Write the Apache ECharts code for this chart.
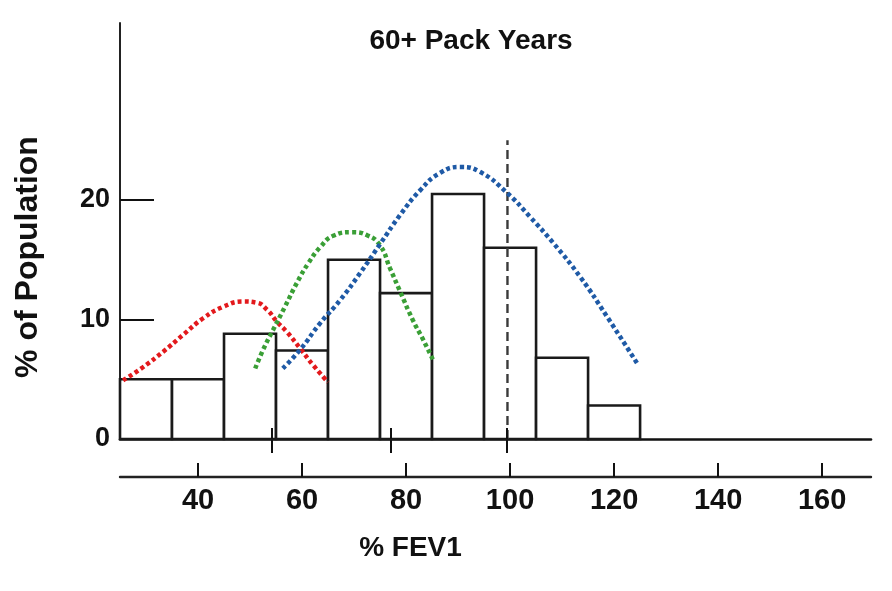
<!DOCTYPE html>
<html>
<head>
<meta charset="utf-8">
<script src="https://cdn.jsdelivr.net/npm/echarts@6/dist/echarts.min.js"></script>
<style>
    html,body{margin:0;padding:0;background:#fff;}
    #chart{width:892px;height:591px;}
</style>
</head>
<body>
<div id="chart"></div>
<script>
    // histogram bins (% FEV1) and heights (% of population)
    var binStart = [25, 35, 45, 55, 65, 75, 85, 95, 105, 115];
    var binEnd   = [35, 45, 55, 65, 75, 85, 95, 105, 115, 125];
    var pctPopulation = [5, 5, 8.8, 7.4, 15, 12.2, 20.5, 16, 6.8, 2.8];

    // dotted curves
    var redX = [25.6, 29.4, 33.3, 37.1, 41.0, 44.8, 48.7, 51.3, 53.3, 55.2, 57.1, 59.6, 62.1, 65.0];
    var redY = [4.9, 6.0, 7.3, 8.7, 10.1, 11.05, 11.5, 11.4, 10.8, 9.8, 8.95, 7.6, 6.2, 4.75];
    var greenX = [51.0, 52.5, 54.4, 56.7, 59.0, 61.2, 63.5, 66.0, 69.6, 72.5, 75.0, 76.9, 78.8, 81.3, 83.3, 85.2];
    var greenY = [5.9, 7.45, 9.1, 11.05, 13.05, 14.7, 16.05, 17.0, 17.3, 17.05, 16.2, 14.3, 12.4, 9.95, 8.3, 6.6];
    var blueX = [56.3, 59.6, 63.5, 67.3, 71.2, 75.0, 78.8, 82.7, 86.5, 90.4, 94.2, 99.4, 103.8, 108.3, 113.5, 118.7, 124.4];
    var blueY = [5.9, 7.45, 9.7, 11.6, 13.9, 16.3, 18.7, 20.8, 22.25, 22.75, 22.35, 20.6, 18.6, 16.4, 13.55, 10.2, 6.35];

    // reference line at 100 % FEV1
    var refX = 99.5;
    var refTop = 25;

    var xTickValues = [40, 60, 80, 100, 120, 140, 160];
    var yLabelValues = [0, 10, 20];
    var yTickValues = [10, 20];
    var baselineMarks = [54.2, 77.1, 99.4];

    function pairs(xs, ys){
        return xs.map(function(x, i){ return [x, ys[i]]; });
    }

    var font = '"Liberation Sans", Arial, sans-serif';
    var xMin = 25, xMax = 169.4;

    var myChart = echarts.init(document.getElementById('chart'));

    var dotted = function(color){
        return {color: color, width: 4.5, type: [4, 3], cap: 'butt'};
    };

    var option = {
        animation: false,
        title: {
            text: '60+ Pack Years',
            left: 466,
            top: 22,
            textAlign: 'center',
            textStyle: {fontFamily: font, fontSize: 28, fontWeight: 'bold', color: '#111'}
        },
        grid: {left: 120, right: 21, top: 23, bottom: 152},
        xAxis: [
            {   // histogram baseline, marks pointing down
                type: 'value', min: xMin, max: xMax, position: 'bottom',
                axisLine: {show: true, lineStyle: {color: '#111', width: 2.6}},
                axisTick: {show: true, customValues: baselineMarks, length: 14, lineStyle: {color: '#111', width: 2}},
                axisLabel: {show: false},
                splitLine: {show: false}
            },
            {   // same baseline, marks pointing up through the bars
                type: 'value', min: xMin, max: xMax, position: 'bottom', z: 5,
                axisLine: {show: false},
                axisTick: {show: true, inside: true, customValues: baselineMarks, length: 11, lineStyle: {color: '#111', width: 2}},
                axisLabel: {show: false},
                splitLine: {show: false}
            },
            {   // labelled scale underneath
                type: 'value', min: xMin, max: xMax, position: 'bottom', offset: 38,
                name: '% FEV1',
                nameLocation: 'middle',
                nameGap: 57,
                nameTextStyle: {fontFamily: font, fontSize: 28, fontWeight: 'bold', color: '#111', padding: [0, 170, 0, 0]},
                axisLine: {show: true, lineStyle: {color: '#222', width: 2.4}},
                axisTick: {show: true, inside: true, customValues: xTickValues, length: 14, lineStyle: {color: '#111', width: 2}},
                axisLabel: {customValues: xTickValues, margin: 9, fontFamily: font, fontSize: 29, fontWeight: 'bold', color: '#111'},
                splitLine: {show: false}
            }
        ],
        yAxis: {
            type: 'value', min: 0, max: 34.8,
            name: '% of Population',
            nameLocation: 'middle',
            nameRotate: 90,
            nameGap: 76,
            nameTextStyle: {fontFamily: font, fontSize: 32, fontWeight: 'bold', color: '#111', padding: [0, 52, 0, 0]},
            axisLine: {show: true, lineStyle: {color: '#222', width: 2}},
            axisTick: {show: true, inside: true, customValues: yTickValues, length: 34, lineStyle: {color: '#111', width: 2}},
            axisLabel: {customValues: yLabelValues, margin: 10, fontFamily: font, fontSize: 27, fontWeight: 'bold', color: '#111'},
            splitLine: {show: false}
        },
        series: [
            {
                type: 'custom',
                xAxisIndex: 0,
                encode: {x: [0, 1], y: 2},
                data: binStart.map(function(s, i){ return [s, binEnd[i], pctPopulation[i]]; }),
                renderItem: function(params, api){
                    var p0 = api.coord([api.value(0), 0]);
                    var p1 = api.coord([api.value(1), api.value(2)]);
                    return {
                        type: 'rect',
                        shape: {x: p0[0], y: p1[1], width: p1[0] - p0[0], height: p0[1] - p1[1]},
                        style: {fill: '#fff', stroke: '#1a1a1a', lineWidth: 2.6}
                    };
                }
            },
            {
                type: 'line', xAxisIndex: 0, data: [[refX, 0], [refX, refTop]],
                showSymbol: false, symbol: 'none',
                lineStyle: {color: '#3a3a3a', width: 2.4, type: [9, 5]}
            },
            {
                type: 'line', xAxisIndex: 0, data: pairs(redX, redY),
                smooth: true, showSymbol: false, symbol: 'none',
                lineStyle: dotted('#e3191c')
            },
            {
                type: 'line', xAxisIndex: 0, data: pairs(greenX, greenY),
                smooth: true, showSymbol: false, symbol: 'none',
                lineStyle: dotted('#3a9f36')
            },
            {
                type: 'line', xAxisIndex: 0, data: pairs(blueX, blueY),
                smooth: true, showSymbol: false, symbol: 'none',
                lineStyle: dotted('#1f5aa6')
            }
        ]
    };

    myChart.setOption(option, true);
</script>
</body>
</html>
